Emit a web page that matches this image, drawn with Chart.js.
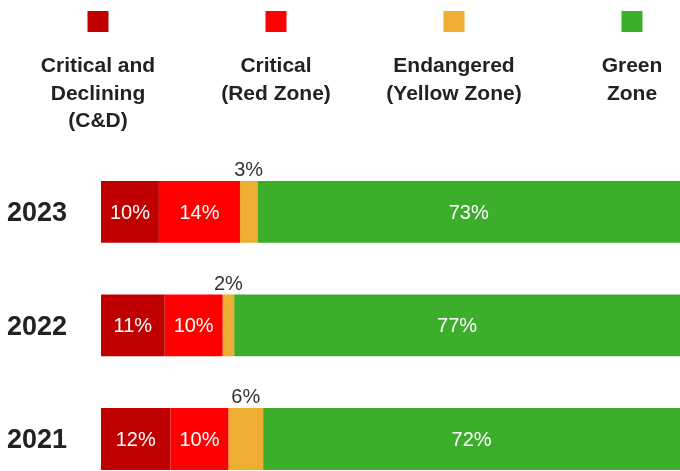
<!DOCTYPE html>
<html>
<head>
<meta charset="utf-8">
<script src="https://cdn.jsdelivr.net/npm/chart.js@4"></script>
<style>
  html, body { margin: 0; padding: 0; background: #fff; overflow: hidden; }
  canvas { display: block; }
</style>
</head>
<body>
<canvas id="zoneChart" width="680" height="515"></canvas>
<script>
const years = ["2023", "2022", "2021"];
const seriesNames = [
    ["Critical and", "Declining", "(C&D)"],
    ["Critical", "(Red Zone)"],
    ["Endangered", "(Yellow Zone)"],
    ["Green", "Zone"]
];
const seriesColors = ["#c00000", "#ff0000", "#eeae32", "#3dae2c"];
const cdValues = [10, 11, 12];
const redValues = [14, 10, 10];
const yellowValues = [3, 2, 6];
const greenValues = [73, 77, 72];

const FONT = "'Liberation Sans', Arial, sans-serif";

// labels inside segments, the yellow one sits above the bar
const segmentLabels = {
    id: "segmentLabels",
    afterDatasetsDraw(chart) {
        const ctx = chart.ctx;
        ctx.save();
        ctx.textAlign = "center";
        chart.data.datasets.forEach((ds, i) => {
            const meta = chart.getDatasetMeta(i);
            meta.data.forEach((bar, j) => {
                const text = ds.data[j] + "%";
                const cx = bar.base + (bar.x - bar.base) / 2;
                ctx.font = "20px " + FONT;
                if (i === 2) {
                    ctx.fillStyle = "#333";
                    ctx.textBaseline = "alphabetic";
                    ctx.fillText(text, cx, bar.y - bar.height / 2 - 5);
                } else {
                    ctx.fillStyle = "#fff";
                    ctx.textBaseline = "middle";
                    ctx.fillText(text, cx, bar.y + 1.5);
                }
            });
        });
        ctx.restore();
    }
};

// legend on top: square then multi-line name
const topLegend = {
    id: "topLegend",
    afterDraw(chart) {
        const ctx = chart.ctx;
        ctx.save();
        ctx.textAlign = "center";
        ctx.textBaseline = "alphabetic";
        ctx.font = "bold 21px " + FONT;
        seriesNames.forEach((lines, i) => {
            const cx = 98 + i * 178;
            ctx.fillStyle = seriesColors[i];
            ctx.fillRect(cx - 10.5, 11, 21, 21);
            ctx.fillStyle = "#222";
            lines.forEach((line, k) => {
                ctx.fillText(line, cx, 72 + k * 27.5);
            });
        });
        ctx.restore();
    }
};

const values = [cdValues, redValues, yellowValues, greenValues];

new Chart(document.getElementById("zoneChart"), {
    type: "bar",
    data: {
        labels: years,
        datasets: values.map((v, i) => ({
            label: seriesNames[i].join(" "),
            data: v,
            backgroundColor: seriesColors[i],
            borderWidth: 0,
            categoryPercentage: 0.544,
            barPercentage: 1
        }))
    },
    options: {
        indexAxis: "y",
        responsive: false,
        animation: false,
        layout: { padding: { top: 155, left: 7, right: 0, bottom: 0 } },
        plugins: {
            legend: { display: false },
            tooltip: { enabled: false }
        },
        scales: {
            x: {
                stacked: true,
                min: 0,
                max: 100,
                display: false
            },
            y: {
                stacked: true,
                grid: { display: false },
                border: { display: false },
                afterFit: scale => { scale.width = 94; },
                ticks: {
                    crossAlign: "far",
                    labelOffset: 2,
                    color: "#222",
                    font: { family: FONT, size: 27, weight: "bold" }
                }
            }
        }
    },
    plugins: [segmentLabels, topLegend]
});
</script>
</body>
</html>
